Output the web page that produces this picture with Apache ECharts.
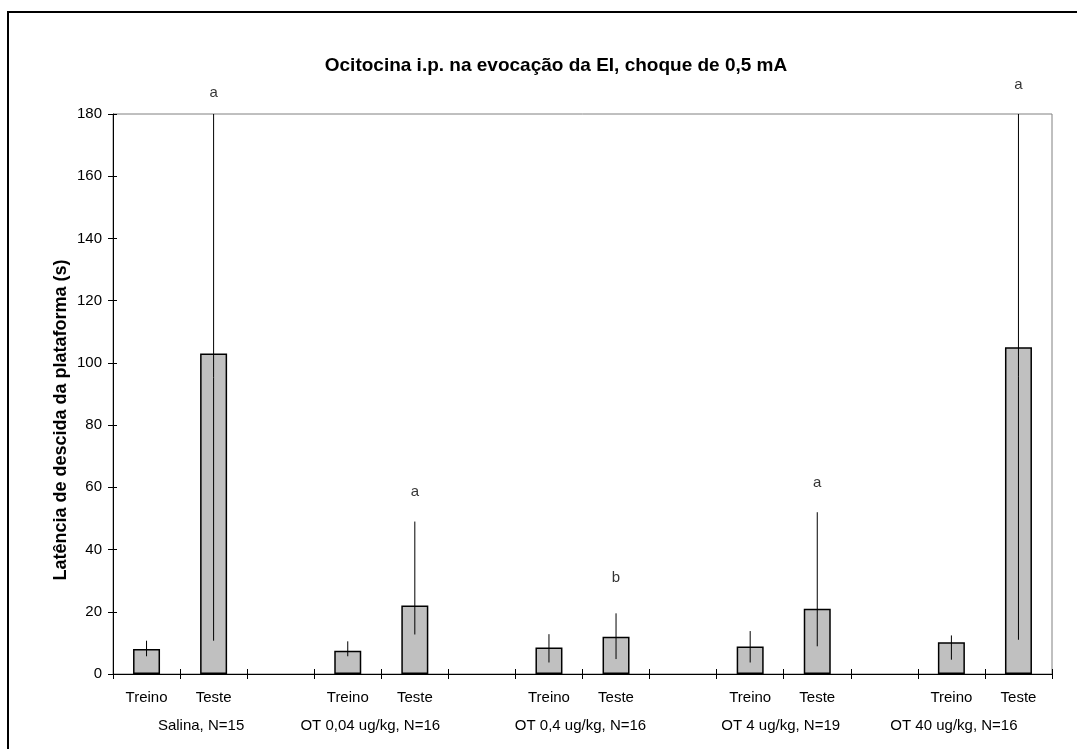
<!DOCTYPE html>
<html>
<head>
<meta charset="utf-8">
<script src="https://cdn.jsdelivr.net/npm/echarts@6/dist/echarts.min.js"></script>
<style>
html,body{margin:0;padding:0;background:#fff;}
#chart{width:1077px;height:749px;}
</style>
</head>
<body>
<div id="chart"></div>
<script>
// ---- data ----
const categories = ['Treino','Teste','','Treino','Teste','','Treino','Teste','','Treino','Teste','','Treino','Teste'];
const means = [8, 103, null, 7.5, 22, null, 8.5, 12, null, 8.8, 21, null, 10.2, 105];
const lows  = [5.7, 10.7, null, 5.7, 12.7, null, 3.7, 4.8, null, 3.7, 8.9, null, 4.6, 11];
const highs = [10.7, 180, null, 10.5, 49, null, 12.8, 19.5, null, 13.8, 52, null, 12.4, 180];
const groupLabels = ['Salina, N=15','OT 0,04 ug/kg, N=16','OT 0,4 ug/kg, N=16','OT 4 ug/kg, N=19','OT 40 ug/kg, N=16'];
const letterCats = [1, 4, 7, 10, 13];
const letters = ['a','a','b','a','a'];
const letterValues = [186.7, 58.7, 31, 61.3, 189.5];
const yMin = 0, yMax = 180, yInterval = 20;
const titleText = 'Ocitocina i.p. na evocação da EI, choque de 0,5 mA';
const yName = 'Latência de descida da plataforma (s)';

// ---- layout (not data) ----
const groupOffsets = [21, -11, -2, -3, -31];
const FONT = 'Liberation Sans, Arial, sans-serif';

const chart = echarts.init(document.getElementById('chart'), null, {renderer:'canvas'});

const errData = [];
means.forEach((m, i) => { if (m !== null) errData.push([i, lows[i], highs[i]]); });
const letterData = letterCats.map((c, i) => [c, letterValues[i], letters[i]]);

const option = {
  animation: false,
  backgroundColor: '#fff',
  title: {
    text: titleText,
    left: 551, top: 51, textAlign: 'center',
    textStyle: {fontFamily: FONT, fontSize: 19, fontWeight: 'bold', color: '#000'}
  },
  grid: {left: 113, top: 114, right: 25, bottom: 75, show: true, borderColor: '#808080', borderWidth: 1, backgroundColor: '#fff'},
  xAxis: [{
    type: 'category', data: categories, position: 'bottom',
    axisLine: {show: true, lineStyle: {color: '#000', width: 1}},
    axisTick: {show: true, interval: 0, length: 5, lineStyle: {color: '#000'}},
    axisLabel: {interval: 0, color: '#000', fontFamily: FONT, fontSize: 15, margin: 16},
    splitLine: {show: false}
  }, {
    type: 'category', data: categories, position: 'bottom', offset: 0,
    axisLine: {show: false},
    axisTick: {show: true, inside: true, interval: 0, length: 5, lineStyle: {color: '#000'}},
    axisLabel: {show: false}, splitLine: {show: false}
  }],
  yAxis: [{
    type: 'value', min: yMin, max: yMax, interval: yInterval, position: 'left',
    axisLine: {show: true, lineStyle: {color: '#000', width: 1}},
    axisTick: {show: true, length: 5, lineStyle: {color: '#000'}},
    axisLabel: {color: '#000', fontFamily: FONT, fontSize: 15, margin: 11},
    splitLine: {show: false}
  }, {
    type: 'value', min: yMin, max: yMax, interval: yInterval, position: 'left', offset: 0,
    axisLine: {show: false},
    axisTick: {show: true, inside: true, length: 4, lineStyle: {color: '#000'}},
    axisLabel: {show: false}, splitLine: {show: false}
  }],
  series: [{
    type: 'bar', data: means, barWidth: 27,
    itemStyle: {color: '#C0C0C0', borderColor: '#000', borderWidth: 1.5}
  }, {
    type: 'custom', data: errData, encode: {x: 0, y: [1, 2]}, z: 5,
    renderItem: function (params, api) {
      const p1 = api.coord([api.value(0), api.value(1)]);
      const p2 = api.coord([api.value(0), api.value(2)]);
      return {type: 'line', shape: {x1: p1[0], y1: p1[1], x2: p2[0], y2: p2[1]}, style: {stroke: '#000', lineWidth: 1}};
    }
  }, {
    type: 'scatter', data: letterData, symbolSize: 0, clip: false,
    label: {show: true, position: 'inside', formatter: p => p.data[2], color: '#000', fontFamily: FONT, fontSize: 15}
  }],
  graphic: [{
    type: 'rect', shape: {x: 8, y: 12, width: 1090, height: 760},
    style: {fill: 'none', stroke: '#000', lineWidth: 2}, z: 100, silent: true
  }, {
    type: 'text', x: 61, y: 420, rotation: Math.PI / 2,
    style: {text: yName, fill: '#000', font: 'bold 18px ' + FONT, textAlign: 'center', textVerticalAlign: 'middle'}
  }]
};
chart.setOption(option);

// group labels under each Treino/Teste pair
const gElems = groupLabels.map((g, k) => {
  const a = chart.convertToPixel({xAxisIndex: 0}, 3 * k);
  const b = chart.convertToPixel({xAxisIndex: 0}, 3 * k + 1);
  return {
    type: 'text', x: (a + b) / 2 + groupOffsets[k], y: 726,
    style: {text: g, fill: '#000', font: '15px ' + FONT, textAlign: 'center', textVerticalAlign: 'middle'}
  };
});
chart.setOption({graphic: option.graphic.concat(gElems)});
</script>
</body>
</html>
